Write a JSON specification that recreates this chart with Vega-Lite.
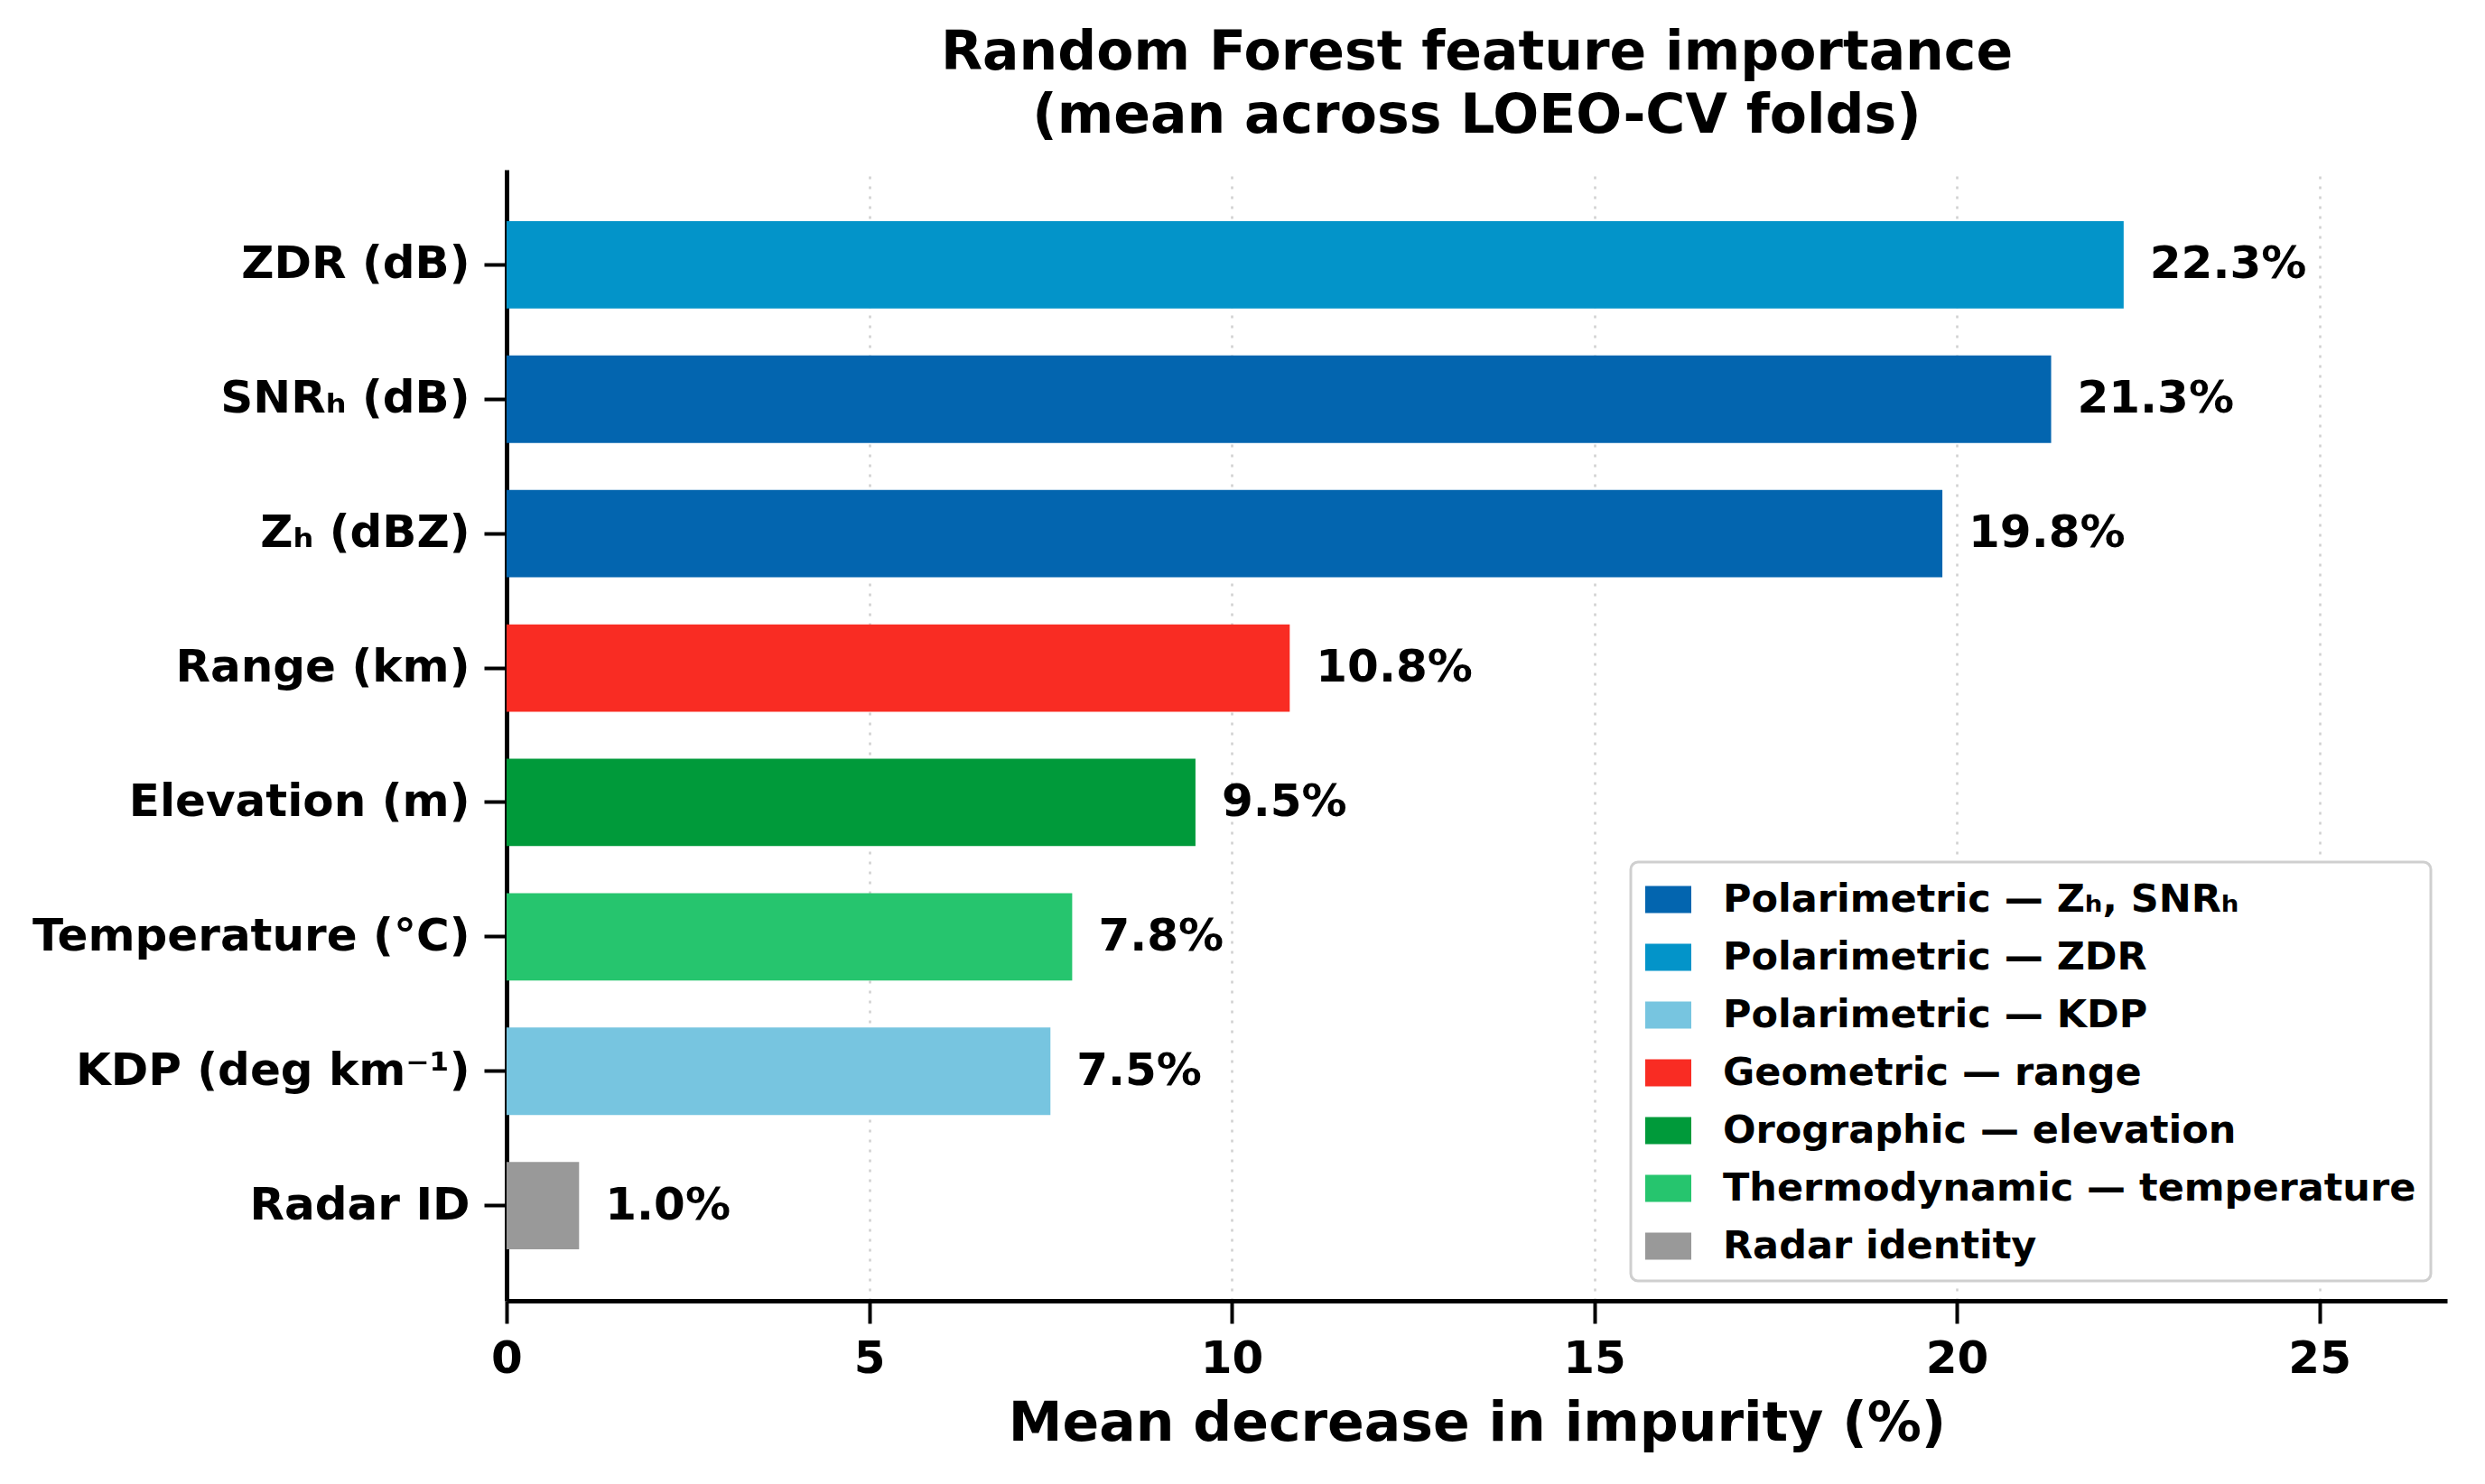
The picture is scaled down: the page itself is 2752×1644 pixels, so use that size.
{
  "$schema": "https://vega.github.io/schema/vega-lite/v6.json",
  "autosize": {"type": "none"},
  "padding": {"left": 561, "top": 188, "right": 42, "bottom": 203},
  "width": 2149,
  "height": 1253,
  "background": "white",
  "title": {
    "text": ["Random Forest feature importance", "(mean across LOEO-CV folds)"],
    "anchor": "middle",
    "frame": "group",
    "font": "DejaVu Sans",
    "fontSize": 60,
    "fontWeight": "bold",
    "lineHeight": 70,
    "color": "black",
    "offset": 28
  },
  "data": {
    "values": [
      {"feature": "ZDR (dB)", "importance": 22.3, "label": "22.3%", "group": "Polarimetric — ZDR"},
      {"feature": "SNRₕ (dB)", "importance": 21.3, "label": "21.3%", "group": "Polarimetric — Zₕ, SNRₕ"},
      {"feature": "Zₕ (dBZ)", "importance": 19.8, "label": "19.8%", "group": "Polarimetric — Zₕ, SNRₕ"},
      {"feature": "Range (km)", "importance": 10.8, "label": "10.8%", "group": "Geometric — range"},
      {"feature": "Elevation (m)", "importance": 9.5, "label": "9.5%", "group": "Orographic — elevation"},
      {"feature": "Temperature (°C)", "importance": 7.8, "label": "7.8%", "group": "Thermodynamic — temperature"},
      {"feature": "KDP (deg km⁻¹)", "importance": 7.5, "label": "7.5%", "group": "Polarimetric — KDP"},
      {"feature": "Radar ID", "importance": 1.0, "label": "1.0%", "group": "Radar identity"}
    ]
  },
  "encoding": {
    "y": {
      "field": "feature",
      "type": "nominal",
      "sort": {"field": "importance", "order": "descending"},
      "scale": {"paddingInner": 0.35, "paddingOuter": 0.3825},
      "axis": {
        "title": null,
        "labelFont": "DejaVu Sans",
        "labelFontSize": 50,
        "labelFontWeight": "bold",
        "labelColor": "black",
        "labelPadding": 16,
        "labelLimit": 800,
        "domainColor": "black",
        "domainWidth": 5,
        "tickColor": "black",
        "tickWidth": 4,
        "tickSize": 25,
        "grid": false
      }
    },
    "x": {
      "field": "importance",
      "type": "quantitative",
      "scale": {"domain": [0, 26.76], "nice": false, "zero": true},
      "axis": {
        "title": "Mean decrease in impurity (%)",
        "titleFont": "DejaVu Sans",
        "titleFontSize": 60,
        "titleFontWeight": "bold",
        "titleColor": "black",
        "titlePadding": 18,
        "values": [0, 5, 10, 15, 20, 25],
        "format": "d",
        "labelFlush": false,
        "labelFont": "DejaVu Sans",
        "labelFontSize": 50,
        "labelFontWeight": "bold",
        "labelColor": "black",
        "labelPadding": 14,
        "domainColor": "black",
        "domainWidth": 5,
        "tickColor": "black",
        "tickWidth": 4,
        "tickSize": 25,
        "grid": true,
        "gridColor": "#d0d0d0",
        "gridWidth": 2.5
      }
    }
  },
  "layer": [
    {
      "mark": {"type": "bar"},
      "encoding": {
        "color": {
          "field": "group",
          "type": "nominal",
          "scale": {
            "domain": [
              "Polarimetric — Zₕ, SNRₕ",
              "Polarimetric — ZDR",
              "Polarimetric — KDP",
              "Geometric — range",
              "Orographic — elevation",
              "Thermodynamic — temperature",
              "Radar identity"
            ],
            "range": ["#0365AF", "#0394C9", "#77C5E0", "#F92C23", "#009A3A", "#26C56E", "#999999"]
          },
          "legend": {
            "title": null,
            "orient": "none",
            "legendX": 1245,
            "legendY": 767,
            "symbolType": "M-1,-0.59H1V0.59H-1Z",
            "symbolSize": 2601,
            "symbolStrokeWidth": 0,
            "labelFont": "DejaVu Sans",
            "labelFontSize": 43,
            "labelFontWeight": "bold",
            "labelColor": "black",
            "labelOffset": 35,
            "labelLimit": 1000,
            "rowPadding": 16,
            "padding": 16,
            "fillColor": "white",
            "strokeColor": "#cfcfcf",
            "cornerRadius": 8,
            "encode": {
              "legend": {"update": {"strokeWidth": {"value": 3}}}
            }
          }
        }
      }
    },
    {
      "mark": {
        "type": "text",
        "align": "left",
        "baseline": "middle",
        "dx": 29,
        "font": "DejaVu Sans",
        "fontSize": 50,
        "fontWeight": "bold",
        "color": "black"
      },
      "encoding": {"text": {"field": "label"}}
    }
  ],
  "config": {
    "view": {"stroke": null},
    "axisX": {"gridDash": [3, 8]}
  }
}
